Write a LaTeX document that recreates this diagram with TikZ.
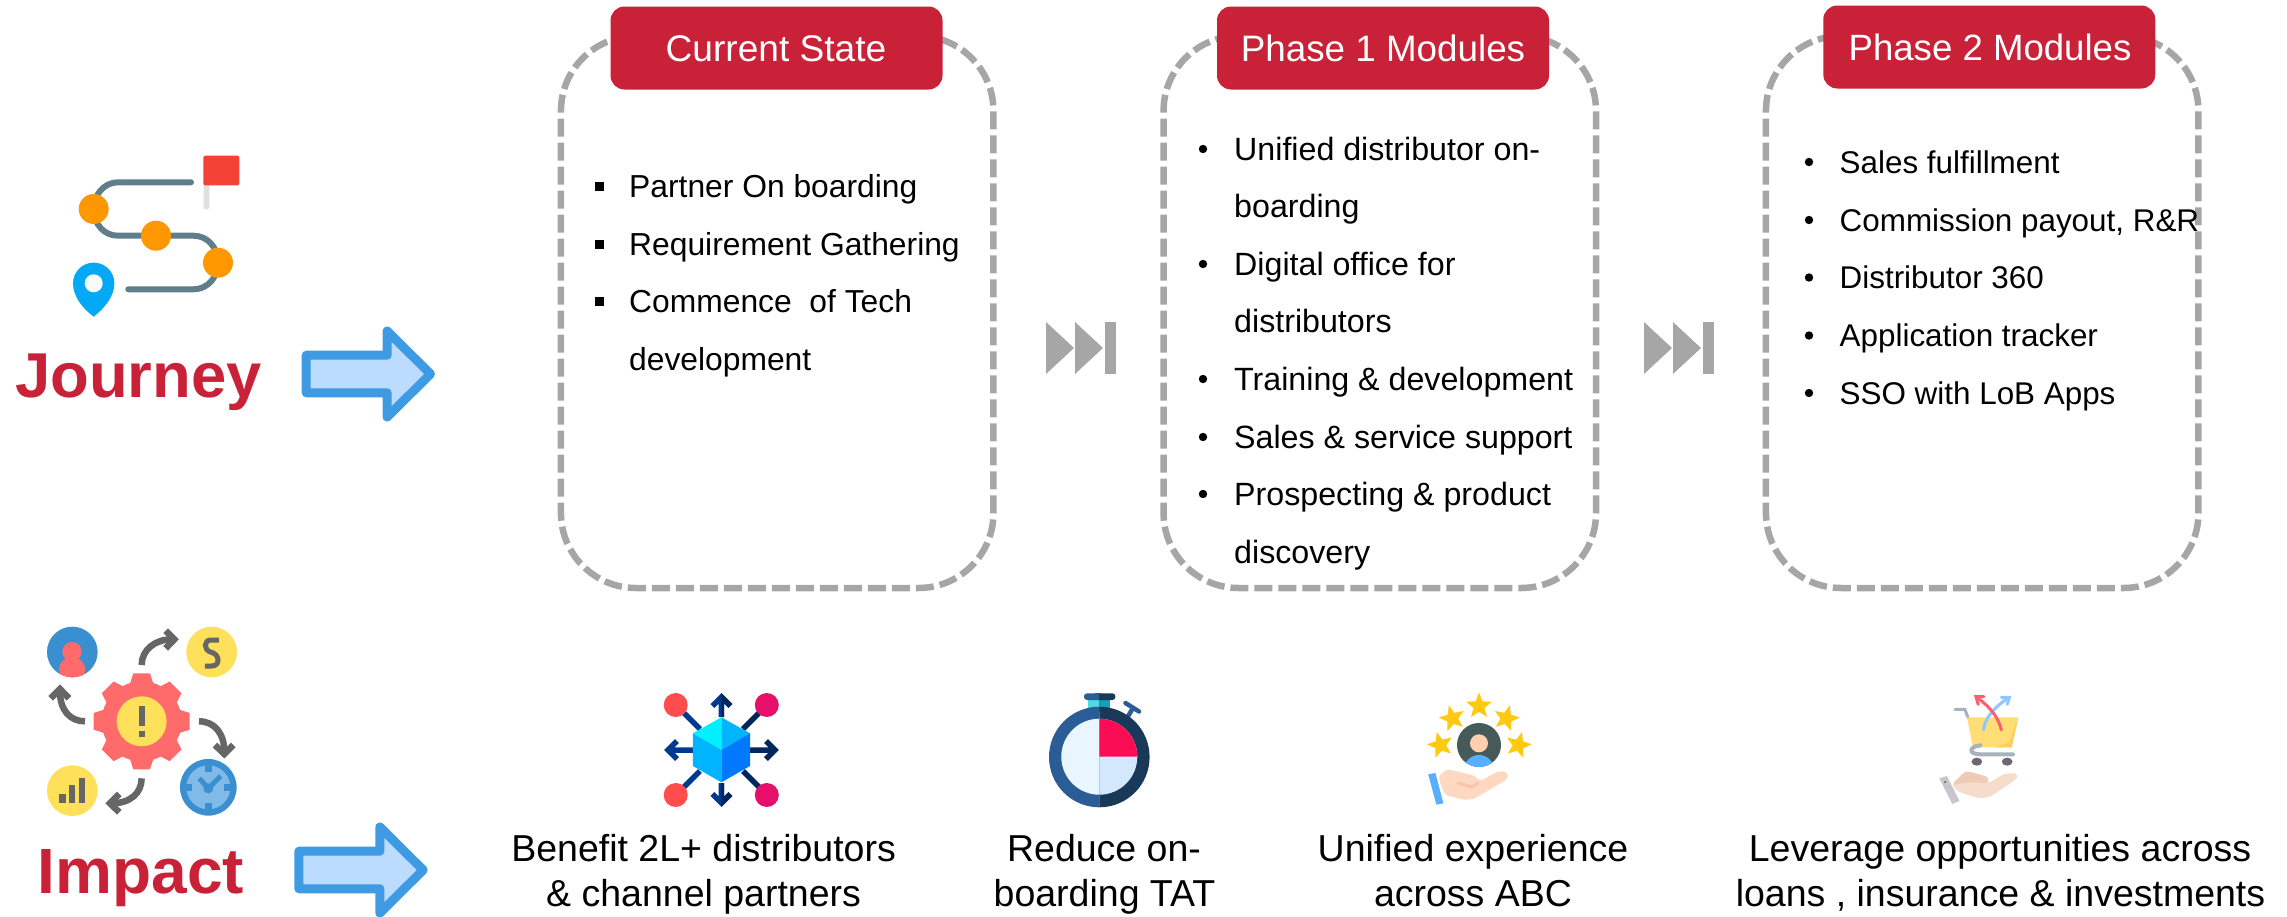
\documentclass[tikz,border=0pt]{standalone}
\usepackage{fontspec}
\setmainfont{Liberation Sans}
\usetikzlibrary{shapes.geometric}
\definecolor{brandred}{HTML}{C92137}
\definecolor{dashgrey}{HTML}{A6A6A6}
\definecolor{arrowblue}{HTML}{3E9BE3}
\definecolor{arrowfill}{HTML}{BBDBFF}
\definecolor{road}{HTML}{607D8B}
\definecolor{stoporange}{HTML}{FF9800}
\definecolor{pinblue}{HTML}{03A9F4}
\definecolor{flagred}{HTML}{F44336}
\definecolor{icongrey}{HTML}{666666}
\definecolor{gearred}{HTML}{FF6B6B}
\definecolor{coinyellow}{HTML}{FFE05A}
\definecolor{iconblue}{HTML}{3A8FD0}
\definecolor{clocklight}{HTML}{7FBAE8}
\definecolor{navyA}{HTML}{003A90}
\definecolor{navyB}{HTML}{00265E}
\definecolor{watchA}{HTML}{2A5C96}
\definecolor{watchB}{HTML}{1A3857}
\definecolor{hubred}{HTML}{FF4D4D}
\definecolor{hubpink}{HTML}{E6106A}
\definecolor{cubeA}{HTML}{00B4FF}
\definecolor{cubeB}{HTML}{0078FF}
\definecolor{cubeC}{HTML}{00F0FF}
\tikzset{
  card/.style={draw=dashgrey,line width=6.5pt,dash pattern=on 18pt off 6pt,rounded corners=75pt,minimum width=432.5pt,minimum height=552pt,inner sep=0pt},
  header/.style={fill=brandred,rounded corners=14pt,minimum width=332pt,minimum height=83pt,inner sep=0pt},
  headtext/.style={anchor=base,inner sep=0pt,text=white,font=\fontsize{#1}{40}\selectfont},
  item/.style={anchor=base west,inner sep=0pt,font=\fontsize{#1}{36}\selectfont},
  caption/.style={anchor=base,inner sep=0pt,font=\fontsize{37.5}{42}\selectfont},
  bigword/.style={anchor=base,inner sep=0pt,text=brandred,font=\fontsize{#1}{66}\selectfont\bfseries},
  squarebullet/.style={fill=black,minimum size=9pt,inner sep=0pt},
  roundbullet/.style={circle,fill=black,minimum size=8.4pt,inner sep=0pt},
  blockarrow/.style={draw=arrowblue,fill=arrowfill,line width=9pt,line join=round},
  skipmark/.style={fill=dashgrey},
  cyclearrow/.style={draw=icongrey,line width=6.5pt},
  gold/.style={star,star points=5,star point ratio=2.3,fill=#1,inner sep=0pt,outer sep=0pt,minimum size=27pt}
}
\begin{document}
\begin{tikzpicture}[x=1pt,y=-1pt]
\useasboundingbox (0,0) rectangle (2287,916);
% ---------- cards
\node[card] (card1) at (777.2,312) {};
\node[card] (card2) at (1379.8,312) {};
\node[card] (card3) at (1982.2,312) {};
\node[header] (head1) at (776.5,48) {};
\node[header] (head2) at (1383,48) {};
\node[header] (head3) at (1989.3,47) {};
\node[headtext=37.1] (t1) at (776,61) {Current State};
\node[headtext=36.8] (t2) at (1383,61) {Phase 1 Modules};
\node[headtext=36.6] (t3) at (1990,60) {Phase 2 Modules};
% ---------- card 1 text
\node[squarebullet] (b11) at (599.3,186) {};
\node[squarebullet] (b12) at (599.3,244) {};
\node[squarebullet] (b13) at (599.3,301) {};
\node[item=31.8] (c11) at (629,197) {Partner On boarding};
\node[item=31.8] (c12) at (629,255) {Requirement Gathering};
\node[item=31.8] (c13) at (629,312) {Commence\ \ of Tech};
\node[item=31.8] (c14) at (629,370) {development};
% ---------- card 2 text
\node[roundbullet] (b21) at (1203,149) {};
\node[roundbullet] (b22) at (1203,264) {};
\node[roundbullet] (b23) at (1203,379) {};
\node[roundbullet] (b24) at (1203,437) {};
\node[roundbullet] (b25) at (1203,494) {};
\node[item=32.2] (c21) at (1234,160) {Unified distributor on-};
\node[item=32.2] (c22) at (1234,217.5) {boarding};
\node[item=32.2] (c23) at (1234,275) {Digital office for};
\node[item=32.2] (c24) at (1234,332.5) {distributors};
\node[item=32.2] (c25) at (1234,390) {Training \& development};
\node[item=32.2] (c26) at (1234,448) {Sales \& service support};
\node[item=32.2] (c27) at (1234,505) {Prospecting \& product};
\node[item=32.2] (c28) at (1234,563) {discovery};
% ---------- card 3 text
\node[roundbullet] (b31) at (1809,162) {};
\node[roundbullet] (b32) at (1809,220) {};
\node[roundbullet] (b33) at (1809,277.5) {};
\node[roundbullet] (b34) at (1809,335.5) {};
\node[roundbullet] (b35) at (1809,393) {};
\node[item=31.4] (c31) at (1839.5,173) {Sales fulfillment};
\node[item=31.4] (c32) at (1839.5,231) {Commission payout, R\&R};
\node[item=31.4] (c33) at (1839.5,288.5) {Distributor 360};
\node[item=31.4] (c34) at (1839.5,346.5) {Application tracker};
\node[item=31.4] (c35) at (1839.5,404) {SSO with LoB Apps};
% ---------- skip marks
\foreach \dx in {0,598}{
  \begin{scope}[shift={(\dx,0)}]
    \fill[skipmark] (1046,322) -- (1074,348) -- (1046,374) -- cycle;
    \fill[skipmark] (1075,322) -- (1103,348) -- (1075,374) -- cycle;
    \fill[skipmark] (1104.5,322) rectangle (1116,374);
  \end{scope}
}
% ---------- big words and block arrows
\node[bigword=63.4] (journey) at (138.5,397) {Journey};
\node[bigword=64] (impact) at (141,893) {Impact};
\draw[blockarrow] (306.2,355.2) -- (387.2,355.2) -- (387.2,331) -- (430.5,374) -- (387.2,417) -- (387.2,392.8) -- (306.2,392.8) -- cycle;
\begin{scope}[shift={(-7.3,496)}]
\draw[blockarrow] (306.2,355.2) -- (387.2,355.2) -- (387.2,331) -- (430.5,374) -- (387.2,417) -- (387.2,392.8) -- (306.2,392.8) -- cycle;
\end{scope}
% ---------- captions
\node[caption] (k1) at (703.6,861) {Benefit 2L+ distributors};
\node[caption] (k2) at (703.6,906) {\& channel partners};
\node[caption] (k3) at (1104,861) {Reduce on-};
\node[caption] (k4) at (1104.5,906) {boarding TAT};
\node[caption] (k5) at (1473,861) {Unified experience};
\node[caption] (k6) at (1473,906) {across ABC};
\node[caption] (k7) at (2000,861) {Leverage opportunities across};
\node[caption] (k8) at (2000.5,906) {loans , insurance \& investments};
% ---------- journey icon
\draw[road,line width=6pt,line cap=round] (191,182.3) -- (118,182.3) .. controls (104,182.3) and (93.7,195) .. (93.7,209) .. controls (93.7,224) and (104,235.7) .. (118,235.7) -- (193.3,235.7) .. controls (208,235.7) and (218,248) .. (218,262.7) .. controls (218,277) and (208,289.3) .. (193.3,289.3) -- (128.3,289.3);
\fill[black!12,rounded corners=1.5pt] (203.5,180) rectangle (209.3,209.3);
\fill[flagred,rounded corners=1.5pt] (203.3,155.7) rectangle (239.3,185.3);
\fill[stoporange] (93.7,209) circle[radius=15];
\fill[stoporange] (156,235.7) circle[radius=15];
\fill[stoporange] (218,262.7) circle[radius=15];
\fill[pinblue] (93.7,316.7) .. controls (82,308) and (73,296) .. (73,283.3) arc[start angle=180,end angle=360,radius=20.7] .. controls (114.4,296) and (105,308) .. (93.7,316.7) -- cycle;
\fill[black!2] (93.7,283.3) circle[radius=9];
% ---------- impact icon (coordinates of a 3x enlargement)
\begin{scope}[shift={(0,610)},x=.3333pt,y=-.3333pt]
  \fill[iconblue] (217,126) circle[radius=76];
  \begin{scope}
    \clip (217,126) circle[radius=76];
    \fill[gearred] (216,125) circle[radius=29];
    \fill[gearred,rounded corners=10pt] (178,145) rectangle (255,215);
  \end{scope}
  \fill[coinyellow] (635,126) circle[radius=76];
  \draw[icongrey,line width=5pt] (657,90) -- (632,90) .. controls (612,90) and (610,120) .. (632,126) .. controls (660,132) and (662,168) .. (635,168) -- (615,168);
  \fill[gearred] (425,334) circle[radius=120];
  \foreach \a in {0,45,...,315}{
    \fill[gearred,shift={(425,334)},rotate=\a] (110,-36) -- (144,-25) -- (144,25) -- (110,36) -- cycle;
  }
  \fill[coinyellow] (425,334) circle[radius=75];
  \fill[icongrey] (416,287) rectangle (436,347);
  \fill[icongrey] (416,362) rectangle (436,381);
  \draw[cyclearrow] (425,165) .. controls (425,120) and (465,88) .. (515,88);
  \draw[cyclearrow] (497,62) -- (523,88) -- (497,115);
  \draw[cyclearrow] (597,334) .. controls (645,334) and (673,372) .. (673,425);
  \draw[cyclearrow] (645,405) -- (673,432) -- (700,405);
  \draw[cyclearrow] (425,505) .. controls (425,550) and (390,580) .. (335,580);
  \draw[cyclearrow] (358,552) -- (330,580) -- (358,607);
  \draw[cyclearrow] (255,334) .. controls (210,334) and (180,300) .. (180,245);
  \draw[cyclearrow] (152,265) -- (180,237) -- (207,265);
  \fill[coinyellow] (217,542) circle[radius=76];
  \fill[icongrey] (178,552) rectangle (197,580);
  \fill[icongrey] (207,525) rectangle (226,580);
  \fill[icongrey] (236,505) rectangle (255,580);
  \fill[iconblue] (625,532) circle[radius=85];
  \fill[clocklight] (625,532) circle[radius=66];
  \fill[iconblue] (615,465) rectangle (635,485);
  \fill[iconblue] (615,580) rectangle (635,600);
  \fill[iconblue] (557,522) rectangle (577,542);
  \fill[iconblue] (673,522) rectangle (693,542);
  \draw[iconblue,line width=5pt] (598,505) -- (625,535) -- (662,498);
  \fill[iconblue] (625,535) circle[radius=15];
\end{scope}
% ---------- hub icon
\draw[navyA,line width=5.5pt] (684,713) -- (700,729) (684,787) -- (700,771) (693,750) -- (670,750) (677,741) -- (668,750) -- (677,759);
\draw[navyB,line width=5.5pt] (759,713) -- (743,729) (759,787) -- (743,771) (750,750) -- (772,750) (766,741) -- (775,750) -- (766,759);
\draw[navyA,line width=5.5pt] (721.4,717) -- (721.4,699) (712.4,706) -- (721.4,697) -- (730.4,706) (721.4,783) -- (721.4,801) (712.4,794) -- (721.4,803) -- (730.4,794);
\begin{scope}
  \clip (721.4,680) rectangle (745,815);
  \draw[navyB,line width=5.5pt] (721.4,717) -- (721.4,699) (712.4,706) -- (721.4,697) -- (730.4,706) (721.4,783) -- (721.4,801) (712.4,794) -- (721.4,803) -- (730.4,794);
\end{scope}
\fill[hubred] (675.7,705) circle[radius=12];
\fill[hubred] (675.7,795) circle[radius=12];
\fill[hubpink] (766.8,705) circle[radius=12];
\fill[hubpink] (766.8,795) circle[radius=12];
\fill[cubeC] (692.9,733.3) -- (721.4,717.3) -- (721.4,750) -- cycle;
\fill[cubeA] (721.4,717.3) -- (750,733.3) -- (721.4,750) -- cycle;
\fill[cubeA] (692.9,733.3) -- (721.4,750) -- (721.4,782.3) -- (692.9,766) -- cycle;
\fill[cubeB] (750,733.3) -- (721.4,750) -- (721.4,782.3) -- (750,766) -- cycle;
% ---------- stopwatch icon
\definecolor{neckA}{HTML}{4FD9E0}
\definecolor{neckB}{HTML}{14A0BA}
\definecolor{faceA}{HTML}{E9F5FF}
\definecolor{faceB}{HTML}{D3E8FC}
\definecolor{quarter}{HTML}{FB0D55}
\fill[neckA] (1087.5,698) rectangle (1099.3,712);
\fill[neckB] (1099.3,698) rectangle (1109.6,712);
\fill[watchA,rounded corners=3pt] (1084,693.3) rectangle (1104,700);
\fill[watchB,rounded corners=3pt] (1095,693.3) rectangle (1115.4,700);
\fill[watchA] (1095,693.3) rectangle (1099.3,700);
\draw[watchA,line width=4.5pt] (1127,718) -- (1133,708);
\draw[watchA,line width=4.5pt,line cap=round] (1125.5,703) -- (1139,711.5);
\fill[watchA] (1099.3,706.7) arc[start angle=-90,end angle=-270,radius=50.3] -- cycle;
\fill[watchB] (1099.3,706.7) arc[start angle=-90,end angle=90,radius=50.3] -- cycle;
\fill[faceA] (1099.3,718.7) arc[start angle=-90,end angle=-270,radius=38] -- cycle;
\fill[faceB] (1099.3,718.7) arc[start angle=-90,end angle=90,radius=38] -- cycle;
\fill[quarter] (1099.3,718.7) arc[start angle=-90,end angle=0,radius=38] -- (1099.3,756.7) -- cycle;
% ---------- stars icon
\definecolor{stargold}{HTML}{FFC911}
\definecolor{handpink}{HTML}{FFD8C2}
\definecolor{crease}{HTML}{F9C4A8}
\definecolor{cuffblue}{HTML}{5AAEFF}
\definecolor{avatar}{HTML}{465A5A}
\definecolor{facepink}{HTML}{FFCFB0}
\node[gold=stargold] (s1) at (1479,706) {};
\node[gold=stargold,rotate=15] (s2) at (1452.3,718.3) {};
\node[gold=stargold,rotate=-15] (s3) at (1506.3,718.3) {};
\node[gold=stargold,rotate=15] (s4) at (1440.3,745) {};
\node[gold=stargold,rotate=-15] (s5) at (1518.4,745) {};
\fill[avatar] (1479,745) circle[radius=22];
\begin{scope}
  \clip (1479,745) circle[radius=22];
  \fill[cuffblue] (1479,770) circle[radius=15];
\end{scope}
\fill[facepink] (1479,743.3) ellipse[x radius=9,y radius=9];
\fill[handpink,rounded corners=4pt] (1438,776.7) -- (1447,769) -- (1476,776) -- (1479,781.7) -- (1498.3,771) -- (1507.2,771.7) -- (1508.6,778.3) -- (1473.8,799) -- (1464.8,800) -- (1444.7,795) -- cycle;
\draw[crease,line width=3pt,line cap=round] (1458,783) -- (1472,787) -- (1478,783);
\fill[cuffblue] (1428.2,774.3) -- (1435.4,773) -- (1443.4,803.3) -- (1436.3,804.7) -- cycle;
% ---------- cart icon (coordinates of an enlargement)
\definecolor{basket}{HTML}{FFDE76}
\definecolor{basketdark}{HTML}{FFCF5C}
\definecolor{cartgrey}{HTML}{A6B2BE}
\definecolor{wheel}{HTML}{6E6570}
\definecolor{palm}{HTML}{F5DCCB}
\definecolor{palmdark}{HTML}{EDCBB8}
\definecolor{cuffgrey}{HTML}{C8C6CC}
\definecolor{upred}{HTML}{FF5F6D}
\definecolor{upblue}{HTML}{8CC8FF}
\begin{scope}[shift={(1380,670)},x=.4464pt,y=-.3333pt]
  \draw[cartgrey,line width=3pt,line cap=round] (1288,118) -- (1310,118) -- (1318,145);
  \fill[basket] (1315,142) -- (1430,142) -- (1415,232) -- (1328,232) -- cycle;
  \fill[basketdark] (1430,142) -- (1415,232) -- (1380,232) -- (1410,215) -- cycle;
  \draw[cartgrey,line width=4pt,line cap=round] (1345,226) .. controls (1318,230) and (1318,253) .. (1345,253) -- (1418,253);
  \fill[wheel] (1337,275) circle[radius=12];
  \fill[wheel] (1405,275) circle[radius=12];
  \draw[upblue,line width=3pt,line cap=round] (1352,180) .. controls (1355,140) and (1380,110) .. (1405,85);
  \draw[upblue,line width=3pt,line cap=round] (1392,82) -- (1410,82) -- (1405,103);
  \draw[upred,line width=3pt,line cap=round] (1392,180) .. controls (1385,140) and (1365,110) .. (1340,85);
  \draw[upred,line width=3pt,line cap=round] (1353,80) -- (1335,80) -- (1340,103);
  \fill[palm,rounded corners=4pt] (1280,345) -- (1312,302) -- (1365,322) -- (1360,342) -- (1400,310) -- (1428,310) -- (1428,325) -- (1365,382) -- (1340,385) -- (1295,365) -- cycle;
  \fill[palmdark,rounded corners=4pt] (1280,345) -- (1312,302) -- (1365,322) -- (1360,342) -- (1328,335) -- cycle;
  \fill[cuffgrey] (1253,325) -- (1270,318) -- (1298,393) -- (1282,402) -- cycle;
  \fill[black!60] (1266,336) circle[radius=3];
\end{scope}
\end{tikzpicture}
\end{document}
